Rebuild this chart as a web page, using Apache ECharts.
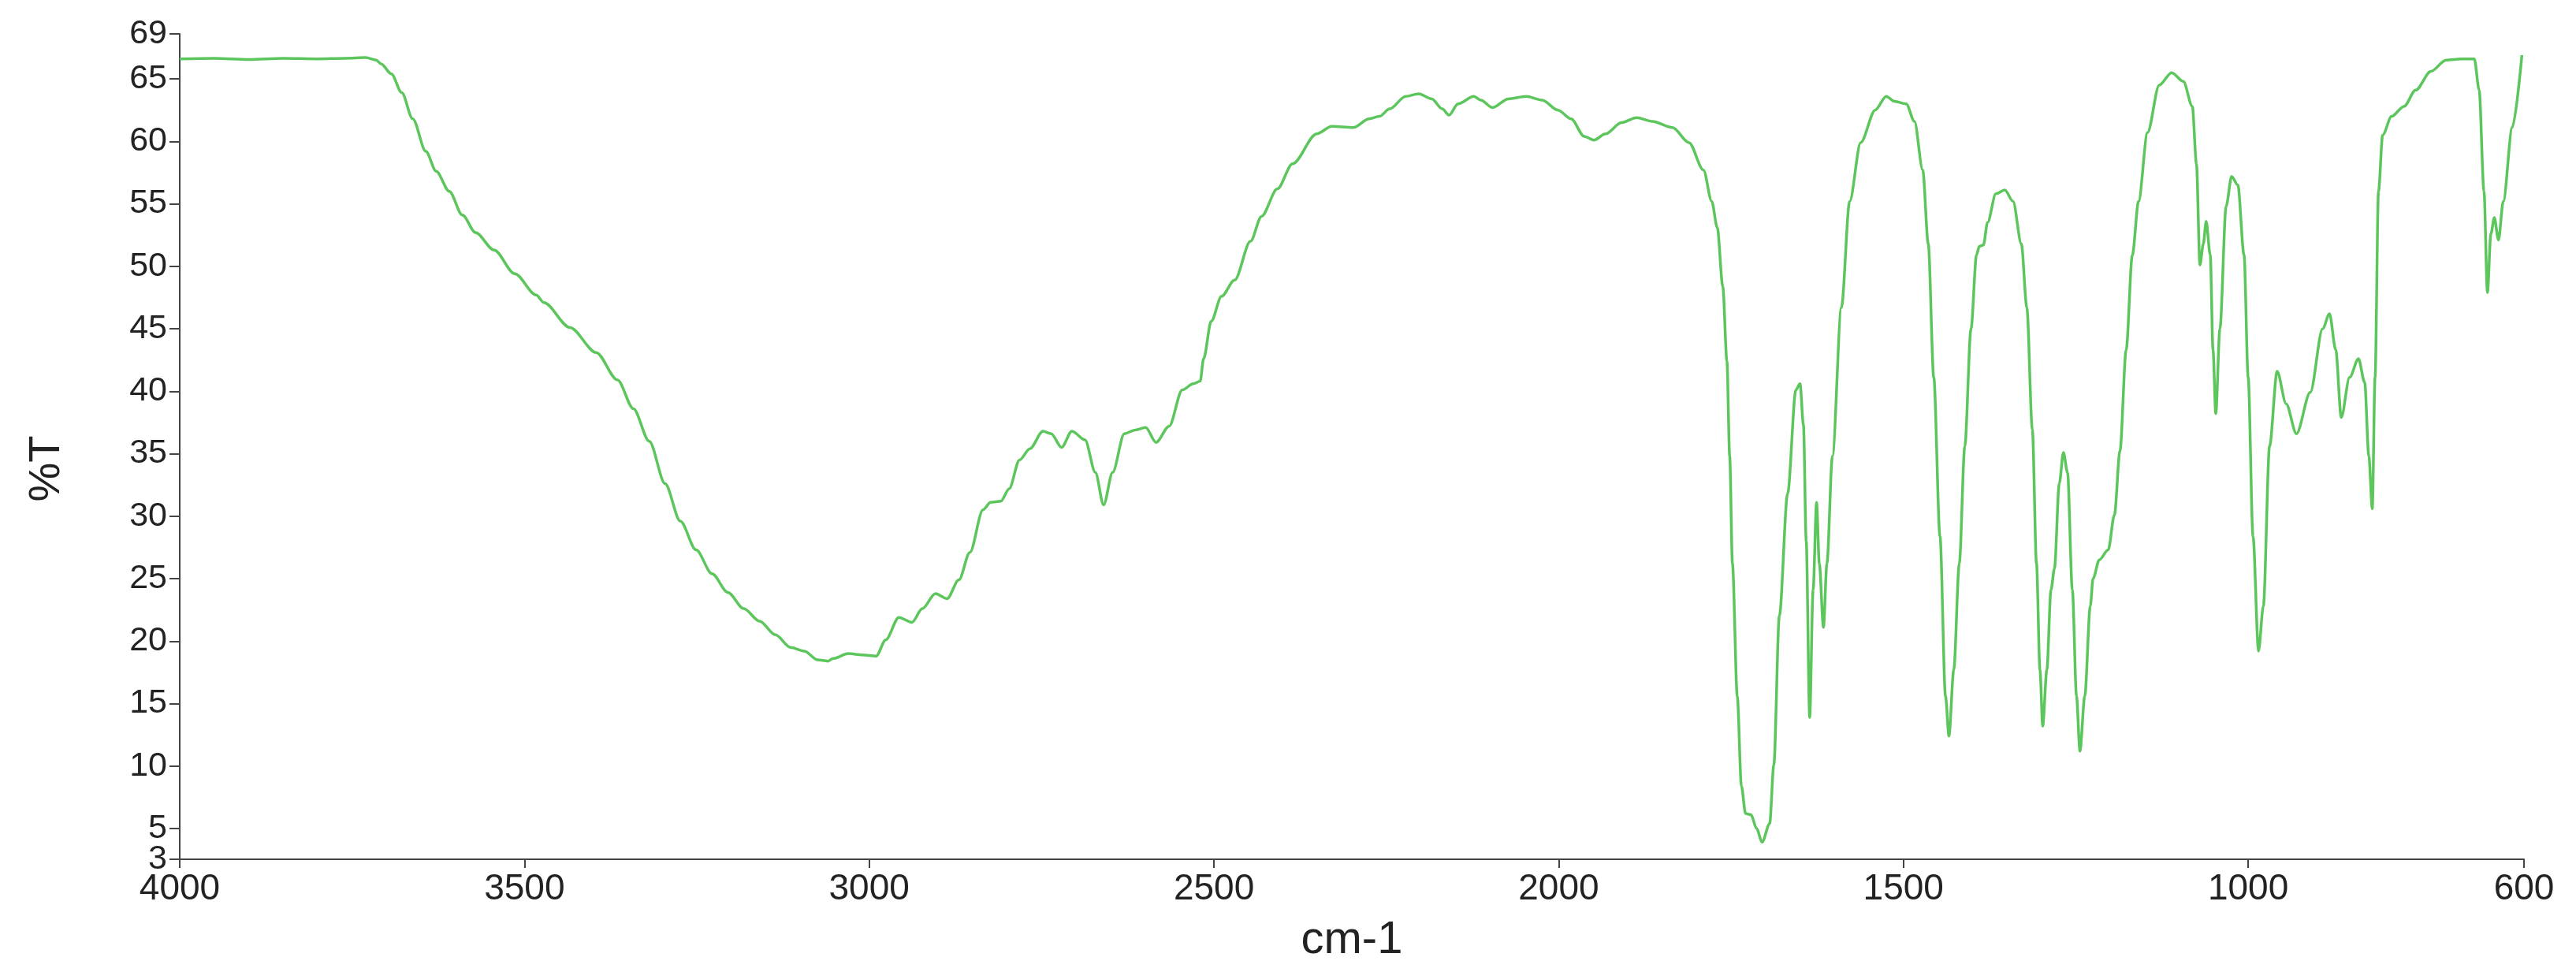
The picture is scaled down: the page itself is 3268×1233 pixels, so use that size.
<!DOCTYPE html>
<html>
<head>
<meta charset="utf-8">
<script src="https://cdn.jsdelivr.net/npm/echarts@6/dist/echarts.min.js"></script>
<style>
html,body{margin:0;padding:0;background:#fff;}
#chart{width:3268px;height:1233px;}
</style>
</head>
<body>
<div id="chart"></div>
<script>
// Wavenumbers (cm-1) and transmittance (%T)
const wavenumbers = [
4000,3950,3900,3850,3800,3760,3730,3715,3708,3693,3678,3662,3643,3628,3609,3590,3571,3544,3514,3483,
3472,3434,3396,3365,3342,3319,3296,3274,3251,3228,3205,3182,3159,3136,3114,3094,3075,3060,3053,3030,
3010,2990,2976,2957,2938,2923,2904,2887,2870,2854,2835,2824,2809,2797,2782,2767,2748,2736,2721,2706,
2687,2672,2660,2647,2630,2614,2599,2584,2565,2546,2530,2520,2515,2504,2489,2470,2447,2431,2408,2386,
2351,2329,2298,2275,2260,2245,2222,2203,2184,2169,2159,2146,2123,2113,2096,2073,2047,2024,2001,1982,
1963,1949,1932,1909,1887,1864,1835,1811,1790,1778,1770,1762,1756,1752,1748,1741,1735,1729,1721,1713,
1705,1694,1688,1680,1668,1656,1650,1645,1641,1636,1631,1626,1622,1616,1611,1603,1590,1578,1562,1541,
1525,1513,1496,1484,1472,1464,1456,1447,1439,1434,1427,1419,1411,1402,1394,1390,1384,1378,1366,1353,
1341,1329,1321,1313,1307,1302,1298,1292,1286,1281,1274,1268,1262,1255,1249,1244,1237,1229,1225,1216,
1203,1194,1186,1177,1168,1159,1146,1129,1111,1094,1081,1075,1070,1065,1061,1055,1051,1047,1041,1032,
1024,1015,1006,1000,993,985,978,969,958,945,930,910,892,882,873,865,853,840,831,825,
820,816,811,805,792,774,757,735,713,691,672,665,658,653,648,643,637,630,617,603
];
const transmittance = [
66.6,66.65,66.55,66.65,66.6,66.65,66.7,66.5,66.2,65.4,63.9,61.8,59.2,57.6,56.0,54.1,52.7,51.3,49.4,47.7,
47.1,45.1,43.1,40.9,38.6,36.0,32.6,29.6,27.3,25.4,23.9,22.6,21.6,20.5,19.5,19.2,18.5,18.4,18.6,19.0,
18.9,18.8,20.1,21.9,21.5,22.6,23.8,23.4,24.9,27.1,30.5,31.1,31.2,32.2,34.5,35.4,36.8,36.6,35.5,36.8,
36.1,33.5,30.9,33.5,36.6,36.9,37.1,35.9,37.2,40.1,40.6,40.8,42.6,45.6,47.6,48.9,52.0,54.0,56.2,58.2,
60.6,61.2,61.1,61.8,62.0,62.6,63.6,63.8,63.4,62.6,62.1,63.0,63.6,63.3,62.7,63.4,63.6,63.3,62.5,61.8,
60.4,60.1,60.6,61.5,61.9,61.6,61.1,59.9,57.7,55.2,53.1,48.4,42.4,34.8,26.2,15.6,8.4,6.2,6.1,5.0,
3.9,5.4,10.1,22.0,31.8,40.1,40.6,37.3,28.0,13.9,24.1,31.1,26.2,21.1,26.2,34.8,46.7,55.2,59.9,62.5,
63.6,63.2,63.0,61.6,57.7,51.8,41.1,28.4,15.6,12.4,17.7,26.2,35.6,45.0,50.9,51.6,51.7,53.5,55.8,56.1,
55.2,51.8,46.7,36.9,26.2,17.7,13.2,17.7,24.1,25.8,32.6,35.1,33.5,24.1,15.6,11.2,15.6,22.8,25.0,26.5,
27.3,30.1,35.2,43.3,50.9,55.2,60.7,64.5,65.5,64.8,62.8,58.2,50.1,51.8,53.6,50.9,43.3,38.2,45.0,54.8,
57.2,56.5,50.9,41.1,28.4,19.2,22.8,35.6,41.6,39.0,36.6,39.9,45.0,46.2,43.3,37.9,41.1,42.6,40.7,34.8,
30.6,41.1,56.0,60.5,62.0,62.8,64.1,65.6,66.5,66.6,66.6,64.1,56.0,47.9,52.6,53.9,52.1,55.2,61.1,66.9
];
const xTicks = [4000,3500,3000,2500,2000,1500,1000,600];
// The axis ends sit at about 2.54 and 68.6; the reference labels them "3" and "69"
const yTickValues = [2.54,5,10,15,20,25,30,35,40,45,50,55,60,65,68.6];
const yTickLabels = ['3','5','10','15','20','25','30','35','40','45','50','55','60','65','69'];

const seriesData = wavenumbers.map((w, i) => [w, transmittance[i]]);
const yMin = yTickValues[0], yMax = yTickValues[yTickValues.length - 1];

const chart = echarts.init(document.getElementById('chart'), null, {renderer: 'canvas'});
const font = 'Liberation Sans';
const yLabelStyle = {
  formatter: v => { const i = yTickValues.indexOf(v); return i >= 0 ? yTickLabels[i] : ''; },
  hideOverlap: false, fontFamily: font, fontSize: 43, color: '#222', margin: 16
};
chart.setOption({
  animation: false,
  backgroundColor: '#ffffff',
  grid: {left: 228, right: 66, top: 43, bottom: 143, containLabel: false},
  xAxis: {
    type: 'value', inverse: true, min: 600, max: 4000,
    name: 'cm-1', nameLocation: 'middle', nameGap: 74,
    nameTextStyle: {fontFamily: font, fontSize: 58, color: '#222'},
    axisLine: {show: true, lineStyle: {color: '#444', width: 2}},
    axisTick: {show: true, customValues: xTicks, length: 11, lineStyle: {color: '#444', width: 2}},
    axisLabel: {customValues: xTicks, formatter: v => String(v), hideOverlap: false,
      fontFamily: font, fontSize: 46, color: '#222', margin: 15},
    splitLine: {show: false}
  },
  yAxis: [{
    type: 'value', min: yMin, max: yMax, position: 'left',
    name: '%T', nameLocation: 'middle', nameGap: 140, nameRotate: 90,
    nameTextStyle: {fontFamily: font, fontSize: 56, color: '#222', padding: [0, 56, 0, 0]},
    axisLine: {show: true, lineStyle: {color: '#444', width: 2}},
    axisTick: {show: true, customValues: yTickValues.slice(1), length: 13, lineStyle: {color: '#444', width: 2}},
    axisLabel: Object.assign({customValues: yTickValues.slice(1)}, yLabelStyle),
    splitLine: {show: false}
  }, {
    type: 'value', min: yMin, max: yMax, position: 'left', offset: 0,
    axisLine: {show: false},
    axisTick: {show: true, customValues: yTickValues.slice(0, 1), length: 13, lineStyle: {color: '#444', width: 2}},
    axisLabel: Object.assign({customValues: yTickValues.slice(0, 1)}, yLabelStyle),
    splitLine: {show: false}
  }],
  series: [{
    type: 'line', data: seriesData, showSymbol: false, yAxisIndex: 0,
    smooth: 0.3, smoothMonotone: 'x',
    lineStyle: {color: '#5cc65c', width: 3.5},
    clip: true
  }]
});
</script>
</body>
</html>
